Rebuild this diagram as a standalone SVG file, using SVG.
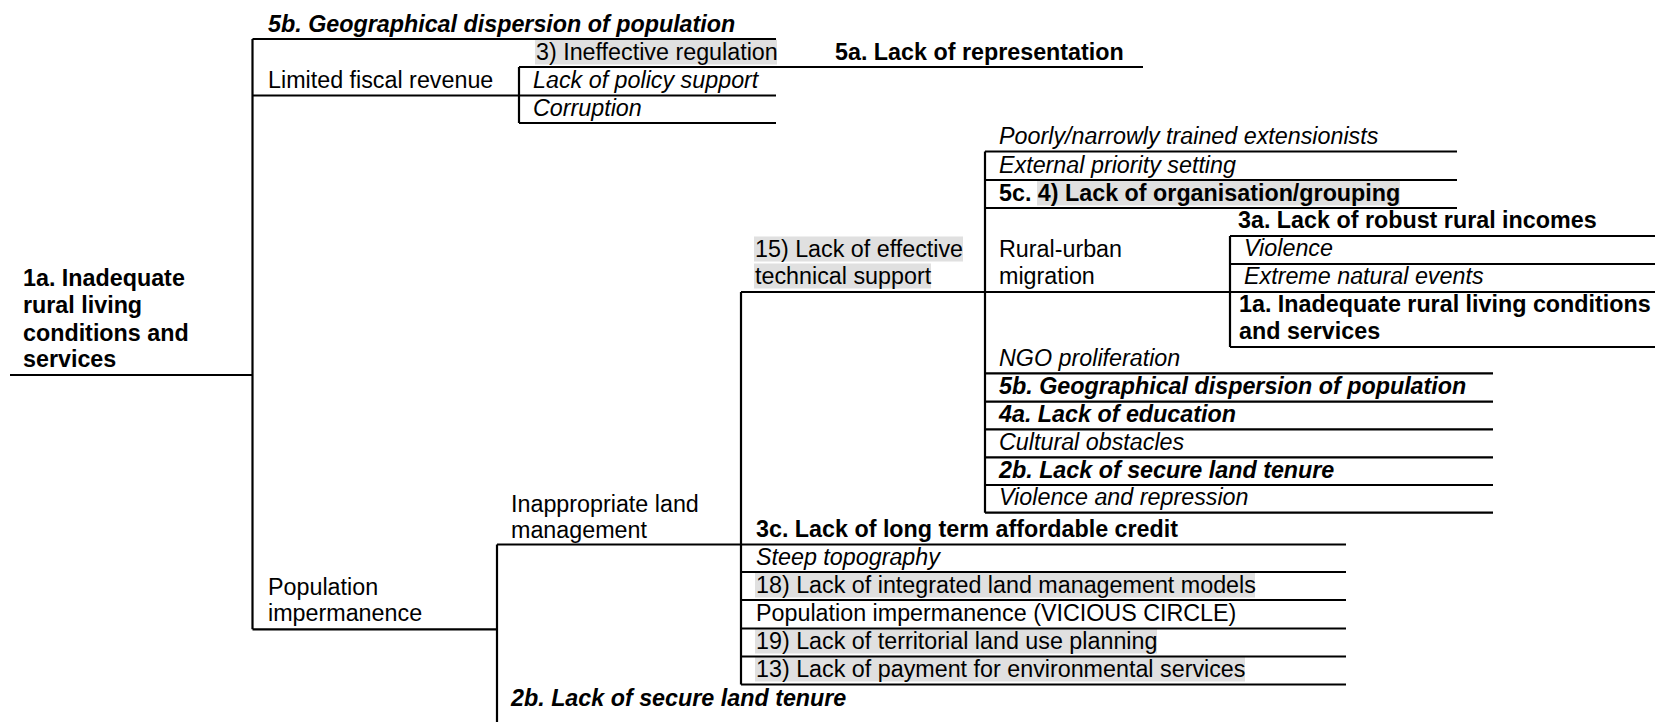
<svg xmlns="http://www.w3.org/2000/svg" width="1655" height="722" viewBox="0 0 1655 722">
<style>
.t{font-family:"Liberation Sans",Arial,sans-serif;font-size:23.3px;fill:#000}
.b{font-weight:bold}
.i{font-style:italic}
.hl{fill:#e0e0e0}
.ln{stroke:#000;stroke-width:2.2;fill:none}
</style>
<rect width="1655" height="722" fill="#fff"/>
<g id="highlights">
<rect class="hl" x="535" y="39.5" width="242" height="25"/>
<rect class="hl" x="1037" y="180.5" width="363" height="25"/>
<rect class="hl" x="754" y="236.5" width="209" height="25"/>
<rect class="hl" x="754" y="263.5" width="177" height="25"/>
<rect class="hl" x="755" y="572.5" width="500" height="25"/>
<rect class="hl" x="755" y="628.5" width="402" height="25"/>
<rect class="hl" x="755" y="656.5" width="490" height="25"/>
</g>
<g id="connectors" class="ln">
<path d="M10 375H252.5M252.5 39V629.3"/>
<path d="M252.5 39H776M519 67H1143M252.5 95.5H776M519 123H776M519 67V123"/>
<path d="M252.5 629.3H497M497 544.5V722M497 544.5H1346"/>
<path d="M741 572H1346M741 600H1346M741 628.5H1346M741 656.5H1346M741 684.5H1346"/>
<path d="M741 292V684.5M741 292H1655"/>
<path d="M985 151.5H1457M985 180H1457M985 208H1457M985 151.5V512.7"/>
<path d="M985 373.3H1493M985 401.7H1493M985 429.3H1493M985 457.3H1493M985 485H1493M985 512.7H1493"/>
<path d="M1230 236H1655M1230 264H1655M1230 347H1655M1230 236V347"/>
</g>
<g id="root"><text class="t b" x="23" y="286">1a. Inadequate</text><text class="t b" x="23" y="313.3">rural living</text><text class="t b" x="23" y="340.7">conditions and</text><text class="t b" x="23" y="367.3">services</text></g>
<g id="n-5b-top"><text class="t b i" x="268" y="31.5">5b. Geographical dispersion of population</text></g>
<g id="n-limited-fiscal"><text class="t" x="268" y="88">Limited fiscal revenue</text></g>
<g id="n-ineffective-regulation"><text class="t" x="536" y="59.5">3) Ineffective regulation</text></g>
<g id="n-5a"><text class="t b" x="835" y="60">5a. Lack of representation</text></g>
<g id="n-policy-support"><text class="t i" x="533" y="88">Lack of policy support</text></g>
<g id="n-corruption"><text class="t i" x="533" y="115.5">Corruption</text></g>
<g id="n-poorly"><text class="t i" x="999" y="144">Poorly/narrowly trained extensionists</text></g>
<g id="n-external"><text class="t i" x="999" y="172.5">External priority setting</text></g>
<g id="n-5c"><text class="t b" x="999" y="200.5">5c. 4) Lack of organisation/grouping</text></g>
<g id="n-15"><text class="t" x="755" y="256.5">15) Lack of effective</text><text class="t" x="755" y="283.5">technical support</text></g>
<g id="n-rural-urban"><text class="t" x="999" y="256.5">Rural-urban</text><text class="t" x="999" y="283.5">migration</text></g>
<g id="n-3a"><text class="t b" x="1238" y="228">3a. Lack of robust rural incomes</text></g>
<g id="n-violence"><text class="t i" x="1244" y="256">Violence</text></g>
<g id="n-extreme"><text class="t i" x="1244" y="284">Extreme natural events</text></g>
<g id="n-1a-loop"><text class="t b" x="1239" y="311.5">1a. Inadequate rural living conditions</text><text class="t b" x="1239" y="338.5">and services</text></g>
<g id="n-ngo"><text class="t i" x="999" y="366">NGO proliferation</text></g>
<g id="n-5b-mid"><text class="t b i" x="999" y="394">5b. Geographical dispersion of population</text></g>
<g id="n-4a"><text class="t b i" x="999" y="421.5">4a. Lack of education</text></g>
<g id="n-cultural"><text class="t i" x="999" y="449.5">Cultural obstacles</text></g>
<g id="n-2b-mid"><text class="t b i" x="999" y="477.5">2b. Lack of secure land tenure</text></g>
<g id="n-violence-repression"><text class="t i" x="999" y="505">Violence and repression</text></g>
<g id="n-inappropriate"><text class="t" x="511" y="511.5">Inappropriate land</text><text class="t" x="511" y="537.5">management</text></g>
<g id="n-3c"><text class="t b" x="756" y="536.5">3c. Lack of long term affordable credit</text></g>
<g id="n-steep"><text class="t i" x="756" y="564.5">Steep topography</text></g>
<g id="n-18"><text class="t" x="756" y="592.5">18) Lack of integrated land management models</text></g>
<g id="n-pop-vicious"><text class="t" x="756" y="620.5">Population impermanence (VICIOUS CIRCLE)</text></g>
<g id="n-19"><text class="t" x="756" y="648.5">19) Lack of territorial land use planning</text></g>
<g id="n-13"><text class="t" x="756" y="676.5">13) Lack of payment for environmental services</text></g>
<g id="n-population"><text class="t" x="268" y="595">Population</text><text class="t" x="268" y="621">impermanence</text></g>
<g id="n-2b-bottom"><text class="t b i" x="511" y="706">2b. Lack of secure land tenure</text></g>
</svg>
